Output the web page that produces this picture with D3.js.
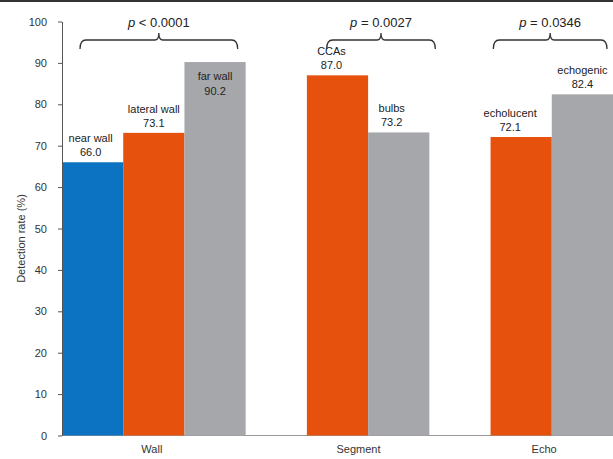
<!DOCTYPE html>
<html>
<head>
<meta charset="utf-8">
<script src="https://cdn.jsdelivr.net/npm/d3@7"></script>
<style>
  html, body { margin: 0; padding: 0; background: #fff; }
  svg { display: block; font-family: "Liberation Sans", Arial, sans-serif; }
</style>
</head>
<body>
<svg id="chart" width="613" height="459"></svg>
<script>
// ---- data ----
const categories = ["Wall", "Segment", "Echo"];
const seriesKeys = ["s1", "s2", "s3"];
const wallValues = [66.0, 73.1, 90.2];
const wallLabels = ["near wall", "lateral wall", "far wall"];
const segmentValues = [null, 87.0, 73.2];
const segmentLabels = [null, "CCAs", "bulbs"];
const echoValues = [null, 72.1, 82.4];
const echoLabels = [null, "echolucent", "echogenic"];
const pTexts = ["< 0.0001", "= 0.0027", "= 0.0346"];
const yTicks = [0, 10, 20, 30, 40, 50, 60, 70, 80, 90, 100];
const yTitle = "Detection rate (%)";

// ---- layout / style ----
const W = 613, H = 459;
const margin = { left: 62, right: 0, top: 21.5, bottom: 23.5 };
const colors = ["#0b73c2", "#e6520d", "#a6a7aa"];
const labelInside = [false, false, true];        // per series in Wall only
const labelNudge = [[-2, 0, 0], [0, -6, -7], [0, -11, 0]];
const catLabelShift = [-2, 21, 23];
const bracketInset = [[18, -8], [81, 6], [64, -6]];

const svg = d3.select("#chart");
svg.append("rect").attr("x", 0).attr("y", 0).attr("width", W).attr("height", 2).attr("fill", "#333");

const x = d3.scaleBand().domain(categories).range([margin.left, W - margin.right]).padding(0);
const xs = d3.scaleBand().domain(seriesKeys).range([0, x.bandwidth()]).padding(0);
const y = d3.scaleLinear().domain([0, 100]).range([H - margin.bottom, margin.top]);

const valuesByCat = [wallValues, segmentValues, echoValues];
const labelsByCat = [wallLabels, segmentLabels, echoLabels];

const rows = [];
categories.forEach((c, ci) => {
  seriesKeys.forEach((s, si) => {
    const v = valuesByCat[ci][si];
    if (v != null) rows.push({ c, ci, s, si, v, label: labelsByCat[ci][si] });
  });
});

// baseline
svg.append("line")
  .attr("x1", margin.left).attr("x2", W)
  .attr("y1", y(0)).attr("y2", y(0))
  .attr("stroke", "#9a9a9a").attr("stroke-width", 1);

// bars
svg.append("g").selectAll("rect").data(rows).join("rect")
  .attr("x", d => x(d.c) + xs(d.s))
  .attr("y", d => y(d.v))
  .attr("width", xs.bandwidth())
  .attr("height", d => y(0) - y(d.v))
  .attr("fill", d => colors[d.si]);

// y axis
const yAxis = svg.append("g")
  .attr("transform", `translate(${margin.left},0)`)
  .call(d3.axisLeft(y).tickValues(yTicks).tickFormat(d3.format("d")).tickSizeInner(4).tickSizeOuter(0).tickPadding(11));
yAxis.select(".domain").attr("stroke", "#555");
yAxis.selectAll(".tick line").attr("stroke", "#555");
yAxis.selectAll(".tick text").attr("fill", "#333").style("font-size", "11px");

// x axis labels
const xAxis = svg.append("g")
  .attr("transform", `translate(0,${y(0)})`)
  .call(d3.axisBottom(x).tickSize(0).tickPadding(10));
xAxis.select(".domain").remove();
xAxis.selectAll(".tick text")
  .attr("fill", "#333").style("font-size", "11px")
  .attr("dx", (d, i) => catLabelShift[i]);

// y title
svg.append("text")
  .attr("transform", `translate(25,${(y(0) + y(100)) / 2 + 10}) rotate(-90)`)
  .attr("text-anchor", "middle")
  .attr("fill", "#333").style("font-size", "11px")
  .text(yTitle);

// value labels
const lab = svg.append("g").attr("fill", "#222").style("font-size", "11px").attr("text-anchor", "middle");
rows.forEach(d => {
  const cx = x(d.c) + xs(d.s) + xs.bandwidth() / 2 + labelNudge[d.ci][d.si];
  const inside = d.ci === 0 && labelInside[d.si];
  const top = y(d.v);
  const y1 = inside ? top + 18 : top - 20;
  const y2 = inside ? top + 33 : top - 6;
  lab.append("text").attr("x", cx).attr("y", y1).text(d.label);
  lab.append("text").attr("x", cx).attr("y", y2).text(d3.format(".1f")(d.v));
});

// brackets with p-values
const br = svg.append("g");
categories.forEach((c, ci) => {
  const x1 = x(c) + bracketInset[ci][0];
  const x2 = x(c) + x.bandwidth() + bracketInset[ci][1];
  const xm = (x1 + x2) / 2;
  const yb = y(100) + 18.5;
  const r = 6;
  const p = d3.path();
  p.moveTo(x1, yb + 9);
  p.quadraticCurveTo(x1, yb, x1 + r, yb);
  p.lineTo(xm - 4, yb);
  p.quadraticCurveTo(xm, yb, xm, yb - 7);
  p.quadraticCurveTo(xm, yb, xm + 4, yb);
  p.lineTo(x2 - r, yb);
  p.quadraticCurveTo(x2, yb, x2, yb + 9);
  br.append("path").attr("d", p.toString())
    .attr("fill", "none").attr("stroke", "#333").attr("stroke-width", 1.3);
  const t = br.append("text")
    .attr("x", xm).attr("y", yb - 13)
    .attr("text-anchor", "middle")
    .attr("fill", "#222").style("font-size", "13px");
  t.append("tspan").style("font-style", "italic").text("p");
  t.append("tspan").text(" " + pTexts[ci]);
});
</script>
</body>
</html>
